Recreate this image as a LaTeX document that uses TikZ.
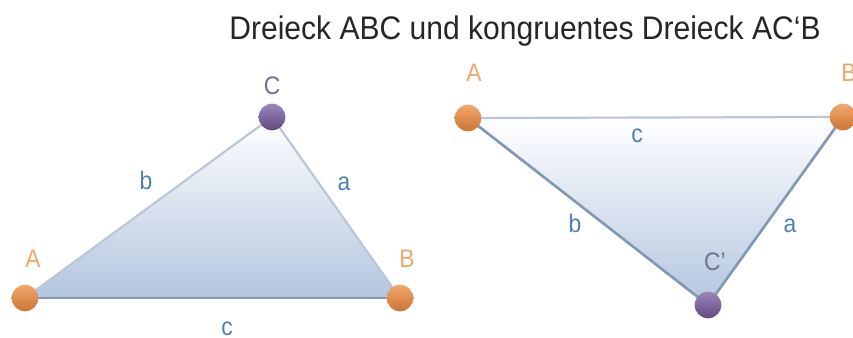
\documentclass[tikz,border=0pt]{standalone}
\usepackage{fontspec}
\setmainfont{Liberation Sans}
\usetikzlibrary{positioning}
\definecolor{dotorange}{HTML}{EE8A3C}
\definecolor{dotpurple}{HTML}{7A5CA2}
\definecolor{lblorange}{HTML}{F2A66A}
\definecolor{lblblue}{HTML}{4F7FB5}
\definecolor{lblgray}{HTML}{6E7490}
\definecolor{edgelight}{HTML}{B9C6D6}
\definecolor{edgedark}{HTML}{8299B3}
\definecolor{fillblue}{HTML}{B3C5DF}
\tikzset{
    corner/.style = {circle, inner sep=0pt, minimum size=20pt},
    orangedot/.style = {corner, top color=dotorange!75!white, bottom color=dotorange!85!black},
    purpledot/.style = {corner, top color=dotpurple!75!white, bottom color=dotpurple!80!black},
    cornerlabel/.style = {font=\fontsize{19}{19}\selectfont, text=lblorange, xscale=0.9},
    sidelabel/.style = {font=\fontsize{19}{19}\selectfont, text=lblblue, xscale=0.9},
    edge/.style = {draw=edgelight, line width=1.6pt},
    darkedge/.style = {draw=edgedark, line width=2pt}
}
\begin{document}
\begin{tikzpicture}[x=0.75pt, y=-0.75pt]
    \useasboundingbox (0,0) rectangle (853,338);

    % Title
    \node[font=\fontsize{24.5}{24.5}\selectfont, text=black!85, xscale=0.92] (title) at (525,31) {Dreieck ABC und kongruentes Dreieck AC‘B};

    % Left triangle
    \coordinate (lA) at (25,298);
    \coordinate (lB) at (400,298);
    \coordinate (lC) at (272,117);
    \fill[top color=white, bottom color=fillblue] (lA) -- (lC) -- (lB) -- cycle;
    \draw[edge] (lA) -- (lC) -- (lB);
    \draw[darkedge] (lA) -- (lB);
    \node[orangedot] (dA) at (lA) {};
    \node[orangedot] (dB) at (lB) {};
    \node[purpledot] (dC) at (lC) {};

    \node[cornerlabel] (nA) at (33,259) {A};
    \node[cornerlabel] (nB) at (407,259) {B};
    \node[cornerlabel, text=lblgray] (nC) at (272,86) {C};
    \node[sidelabel] (sb) at (146,180) {b};
    \node[sidelabel] (sa) at (344,184) {a};
    \node[sidelabel] (sc) at (227,329) {c};

    % Right triangle
    \coordinate (rA) at (468,118);
    \coordinate (rB) at (843,117);
    \coordinate (rC) at (708,305);
    \fill[top color=white, bottom color=fillblue] (rA) -- (rB) -- (rC) -- cycle;
    \draw[edge] (rA) -- (rB);
    \draw[darkedge] (rA) -- (rC) -- (rB);
    \node[orangedot] (dA2) at (rA) {};
    \node[orangedot] (dB2) at (rB) {};
    \node[purpledot] (dC2) at (rC) {};

    \node[cornerlabel] (nA2) at (474,73) {A};
    \node[cornerlabel] (nB2) at (849,73) {B};
    \node[cornerlabel, text=lblgray] (nC2) at (715,262) {C'};
    \node[sidelabel] (sc2) at (637,136) {c};
    \node[sidelabel] (sb2) at (575,223) {b};
    \node[sidelabel] (sa2) at (790,226) {a};
\end{tikzpicture}
\end{document}
